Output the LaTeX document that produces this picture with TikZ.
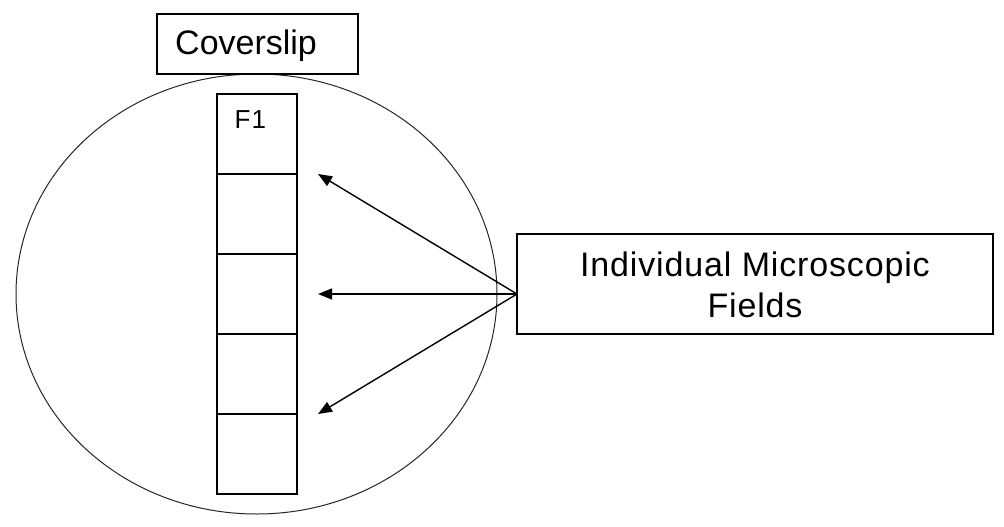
\documentclass[tikz,border=0pt]{standalone}
\usepackage{fontspec}
\setmainfont{Liberation Sans}
\usetikzlibrary{shapes.geometric,arrows.meta}
\begin{document}
\begin{tikzpicture}[x=1pt,y=-1pt,
  box/.style={draw=black,line width=1.3pt,rectangle,inner sep=0pt,outer sep=0pt},
  cell/.style={box,minimum width=80pt,minimum height=80pt},
  txt/.style={font=\fontsize{34}{41}\selectfont\addfontfeatures{LetterSpace=2.5},inner sep=0pt},
  ptr/.style={line width=1.4pt,-{Triangle[length=14pt,width=11pt]}}]
\useasboundingbox (0,0) rectangle (1004,527);
% coverslip outline
\node[draw=black!85,line width=1pt,ellipse,minimum width=481pt,minimum height=440pt,inner sep=0pt] (slip) at (256.5,294) {};
% coverslip label box
\node[box,minimum width=201pt,minimum height=60pt] (cov) at (257.5,44) {};
\node[font=\fontsize{34}{41}\selectfont,inner sep=0pt,anchor=base west] (covt) at (175,55) {Coverslip};
% column of fields
\node[cell] (c1) at (257,134) {};
\node[cell] (c2) at (257,214) {};
\node[cell] (c3) at (257,294) {};
\node[cell] (c4) at (257,374) {};
\node[cell] (c5) at (257,454) {};
\node[font=\fontsize{26}{31}\selectfont\addfontfeatures{LetterSpace=4},inner sep=0pt,anchor=base west] (f1) at (234.5,128.5) {F1};
% fields label box
\node[box,minimum width=476pt,minimum height=100pt] (fields) at (755,284) {};
\node[txt,anchor=base] (fl1) at (755,276) {Individual Microscopic};
\node[txt,anchor=base] (fl2) at (755,317) {Fields};
\coordinate (src) at ([yshift=-10pt]fields.west);
\coordinate (t1) at ([xshift=21pt]c1.south east);
\coordinate (t2) at ([xshift=21pt]c3.east);
\coordinate (t3) at ([xshift=21pt]c4.south east);
\draw[ptr] (src) -- (t1);
\draw[ptr] (src) -- (t2);
\draw[ptr] (src) -- (t3);
\end{tikzpicture}
\end{document}
